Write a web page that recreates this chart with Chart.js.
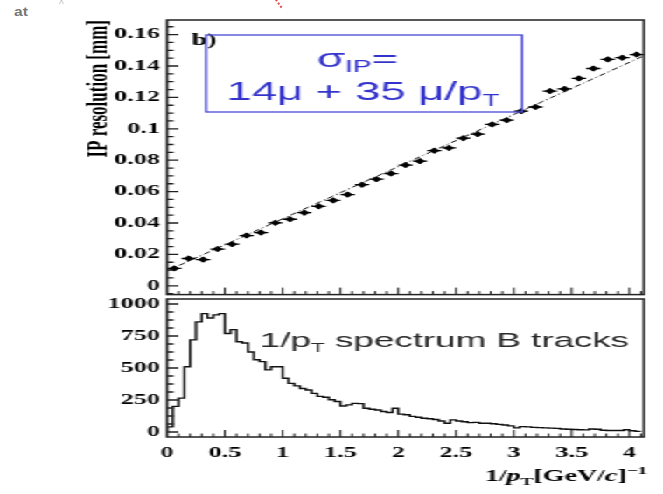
<!DOCTYPE html>
<html>
<head>
<meta charset="utf-8">
<title>IP resolution vs 1/pT</title>
<script src="https://cdn.jsdelivr.net/npm/chart.js@4.4.0/dist/chart.umd.min.js"></script>
<style>
  body { margin: 0; background: #fff; width: 663px; height: 494px; position: relative; overflow: hidden; }
  /* the scanned figure is stretched sideways, so the whole plot is drawn narrow and scaled in x */
  #figure { position: absolute; left: 0; top: 0; width: 379px; height: 494px; transform: scaleX(1.7493); transform-origin: 0 0; }
  #figure canvas { position: absolute; left: 0; }
  #topChart { top: 0; }
  #bottomChart { top: 290px; }
  .scan-at { position: absolute; left: 14px; top: 5px; font: bold 12px 'Liberation Sans', sans-serif; color: #777; transform: scaleX(1.3); transform-origin: 0 0; }
  .scan-hat { position: absolute; left: 59px; top: -1px; font: 10px 'Liberation Sans', sans-serif; color: #bbb; }
  .pen-mark { position: absolute; left: 275px; top: 0; width: 0; height: 10px; border-left: 2px dotted #e44; transform: rotate(-35deg); transform-origin: 0 0; }
</style>
</head>
<body>
<div class="scan-at">at</div>
<div class="scan-hat">^</div>
<div class="pen-mark"></div>
<div id="figure">
  <canvas id="topChart" width="379" height="300"></canvas>
  <canvas id="bottomChart" width="379" height="204"></canvas>
</div>
<script>
// b) IP resolution [mm] in bins of 1/pT (bin centres)
const ipX = [0.0625, 0.1875, 0.3125, 0.4375, 0.5625, 0.6875, 0.8125, 0.9375, 1.0625, 1.1875, 1.3125,
             1.4375, 1.5625, 1.6875, 1.8125, 1.9375, 2.0625, 2.1875, 2.3125, 2.4375, 2.5625, 2.6875,
             2.8125, 2.9375, 3.0625, 3.1875, 3.3125, 3.4375, 3.5625, 3.6875, 3.8125, 3.9375, 4.0625];
const ipRes = [0.0111, 0.0174, 0.0167, 0.0234, 0.0265, 0.0320, 0.0339, 0.0401, 0.0424, 0.0466, 0.0506,
               0.0544, 0.0581, 0.0644, 0.0679, 0.0715, 0.0769, 0.0794, 0.0861, 0.0878, 0.0940, 0.0966,
               0.1028, 0.1055, 0.1112, 0.1139, 0.1240, 0.1254, 0.1321, 0.1384, 0.1442, 0.1453, 0.1473];

// fitted line, end points as drawn
const fitX = [0, 4.125];
const fitY = [0.0095, 0.1465];

// 1/pT spectrum of B tracks, bins of 0.05 starting at 0
const binWidth = 0.05;
const counts = [40, 200, 265, 510, 720, 860, 925, 890, 915, 925,
                770, 800, 705, 695, 625, 565, 550, 485, 510, 510,
                420, 380, 360, 340, 328, 302, 278, 272, 252, 238,
                203, 212, 224, 222, 186, 178, 172, 160, 152, 185,
                140, 135, 122, 115, 108, 104, 98, 86, 68, 95,
                86, 80, 73, 75, 68, 68, 65, 60, 55, 48,
                32, 42, 40, 36, 34, 32, 30, 28, 24, 22,
                20, 18, 17, 24, 22, 14, 12, 12, 12, 18,
                10, 5];

const serif = 'Liberation Serif, DejaVu Serif, serif';
const sans = 'Liberation Sans, Arial, sans-serif';

// draws a run of text pieces (for sub/superscripts)
function richText(ctx, parts, x, y, align) {
  let w = 0;
  parts.forEach(p => { ctx.font = p[1]; w += ctx.measureText(p[0]).width; });
  let cx = align === 'center' ? x - w / 2 : align === 'right' ? x - w : x;
  ctx.textAlign = 'left';
  ctx.textBaseline = 'alphabetic';
  parts.forEach(p => {
    ctx.font = p[1];
    ctx.fillText(p[0], cx, y + (p[2] || 0));
    cx += ctx.measureText(p[0]).width;
  });
}

// ROOT style frame with inward ticks on the left and bottom
const frameTicks = {
  id: 'frameTicks',
  afterDatasetsDraw(chart, args, o) {
    const {ctx, chartArea: a, scales: {x, y}} = chart;
    ctx.save();
    ctx.strokeStyle = '#222';
    ctx.beginPath();
    ctx.lineWidth = 1;
    for (let i = Math.ceil(x.min / o.xMinor - 1e-6); i * o.xMinor <= x.max + 1e-9; i++) {
      const v = i * o.xMinor;
      const r = v / o.xMajor;
      const len = Math.abs(r - Math.round(r)) < 1e-6 ? 7 : 3.5;
      const px = x.getPixelForValue(v);
      ctx.moveTo(px, a.bottom);
      ctx.lineTo(px, a.bottom - len);
    }
    ctx.stroke();
    ctx.beginPath();
    ctx.lineWidth = 1.3;
    for (let i = Math.ceil(y.min / o.yMinor - 1e-6); i * o.yMinor <= y.max + 1e-9; i++) {
      const v = i * o.yMinor;
      const r = v / o.yMajor;
      const len = Math.abs(r - Math.round(r)) < 1e-6 ? 6.5 : 3.8;
      const py = y.getPixelForValue(v);
      ctx.moveTo(a.left, py);
      ctx.lineTo(a.left + len, py);
    }
    ctx.stroke();
    ctx.lineWidth = 1.5;
    ctx.strokeRect(a.left, a.top, a.right - a.left, a.bottom - a.top);
    ctx.restore();
  }
};

const topNotes = {
  id: 'topNotes',
  afterDraw(chart) {
    const ctx = chart.ctx;
    ctx.save();
    ctx.fillStyle = '#000';
    richText(ctx, [['b)', 'bold 16px ' + serif]], 109.5, 45, 'left');
    ctx.strokeStyle = '#4a4ad8';
    ctx.lineWidth = 1.3;
    ctx.strokeRect(117.8, 35, 180.6, 77);
    ctx.fillStyle = '#3434cc';
    richText(ctx, [['σ', '26px ' + sans], ['IP', '16px ' + sans, 5], ['=', '26px ' + sans]], 204.4, 67, 'center');
    richText(ctx, [['14μ + 35 μ/p', '26px ' + sans], ['T', '16px ' + sans, 6]], 207.5, 100, 'center');
    ctx.restore();
  }
};

const bottomNotes = {
  id: 'bottomNotes',
  afterDraw(chart) {
    const ctx = chart.ctx;
    ctx.save();
    ctx.fillStyle = '#2a2a2a';
    richText(ctx, [['1/p', '21px ' + sans], ['T', '13px ' + sans, 5], [' spectrum B tracks', '21px ' + sans]], 148.6, 57, 'left');
    ctx.fillStyle = '#000';
    richText(ctx, [
      ['1/', 'bold 16px ' + serif],
      ['p', 'italic bold 16px ' + serif],
      ['T', 'bold 11px ' + serif, 4],
      ['[GeV/', 'bold 16px ' + serif],
      ['c', 'italic bold 16px ' + serif],
      [']', 'bold 16px ' + serif],
      ['\u22121', 'bold 11px ' + serif, -7]
    ], 370, 191, 'right');
    ctx.restore();
  }
};

const tickFont = {family: serif, weight: 'bold', size: 15};
const num = v => String(Number(v.toFixed(3)));
// fixed axis sizes so the plot frames sit where the figure has them
const fixWidth = w => s => { s.width = w; s.paddingTop = 0; s.paddingBottom = 0; };
const fixHeight = h => s => { s.height = h; s.paddingLeft = 0; s.paddingRight = 0; };

const ipPoints = ipX.map((x, i) => ({x, y: ipRes[i]}));

new Chart(document.getElementById('topChart'), {
  type: 'scatter',
  data: {
    datasets: [
      {
        type: 'line',
        data: fitX.map((x, i) => ({x, y: fitY[i]})),
        borderColor: '#111', borderWidth: 1, borderDash: [4, 2, 1, 2],
        pointRadius: 0, fill: false
      },
      {
        data: ipPoints, pointStyle: 'line', pointRadius: 4.1,
        pointBorderColor: '#000', pointBorderWidth: 1.3
      },
      {
        data: ipPoints, pointStyle: 'line', pointRotation: 90, pointRadius: 2.5,
        pointBorderColor: '#000', pointBorderWidth: 1.3
      },
      {
        data: ipPoints, pointStyle: 'rectRot', pointRadius: 2.8,
        pointBackgroundColor: '#000', pointBorderColor: '#000', pointBorderWidth: 0.5
      }
    ]
  },
  options: {
    responsive: false,
    animation: false,
    events: [],
    layout: {padding: {left: 39.6, top: 20, right: 10.9, bottom: 1}},
    plugins: {
      legend: {display: false},
      tooltip: {enabled: false},
      frameTicks: {xMajor: 0.5, xMinor: 0.1, yMajor: 0.02, yMinor: 0.005}
    },
    scales: {
      x: {
        type: 'linear', min: 0, max: 4.125,
        grid: {display: false, drawTicks: false}, border: {display: false},
        ticks: {display: false},
        afterFit: fixHeight(0)
      },
      y: {
        min: -0.0056, max: 0.1693,
        grid: {display: false, drawTicks: false}, border: {display: false},
        ticks: {stepSize: 0.02, includeBounds: false, padding: 4, color: '#000', font: tickFont, callback: num},
        title: {
          display: true, text: 'IP resolution [mm]', align: 'end', color: '#000',
          padding: {top: 6.8, bottom: 0}, font: {family: serif, weight: 'bold', size: 17}
        },
        afterFit: fixWidth(55.9)
      }
    }
  },
  plugins: [frameTicks, topNotes]
});

// histogram outline: up from zero at the first edge, one step per bin
const histPoints = [{x: 0, y: 0}]
  .concat(counts.map((c, i) => ({x: i * binWidth, y: c})))
  .concat([{x: counts.length * binWidth, y: counts[counts.length - 1]}]);

new Chart(document.getElementById('bottomChart'), {
  type: 'scatter',
  data: {
    datasets: [{
      type: 'line',
      data: histPoints,
      stepped: 'before',
      borderColor: '#111', borderWidth: 1.4,
      pointRadius: 0, fill: false
    }]
  },
  options: {
    responsive: false,
    animation: false,
    events: [],
    layout: {padding: {left: 39.6, top: 9, right: 10.9, bottom: 0}},
    plugins: {
      legend: {display: false},
      tooltip: {enabled: false},
      frameTicks: {xMajor: 0.5, xMinor: 0.1, yMajor: 250, yMinor: 62.5}
    },
    scales: {
      x: {
        type: 'linear', min: 0, max: 4.125,
        grid: {display: false, drawTicks: false}, border: {display: false},
        ticks: {stepSize: 0.5, includeBounds: false, autoSkip: false, maxRotation: 0, padding: 7, color: '#000', font: tickFont, callback: num},
        afterFit: fixHeight(57)
      },
      y: {
        min: -39, max: 1039,
        grid: {display: false, drawTicks: false}, border: {display: false},
        ticks: {stepSize: 250, includeBounds: false, padding: 4, color: '#000', font: tickFont, callback: num},
        afterFit: fixWidth(55.9)
      }
    }
  },
  plugins: [frameTicks, bottomNotes]
});
</script>
</body>
</html>
